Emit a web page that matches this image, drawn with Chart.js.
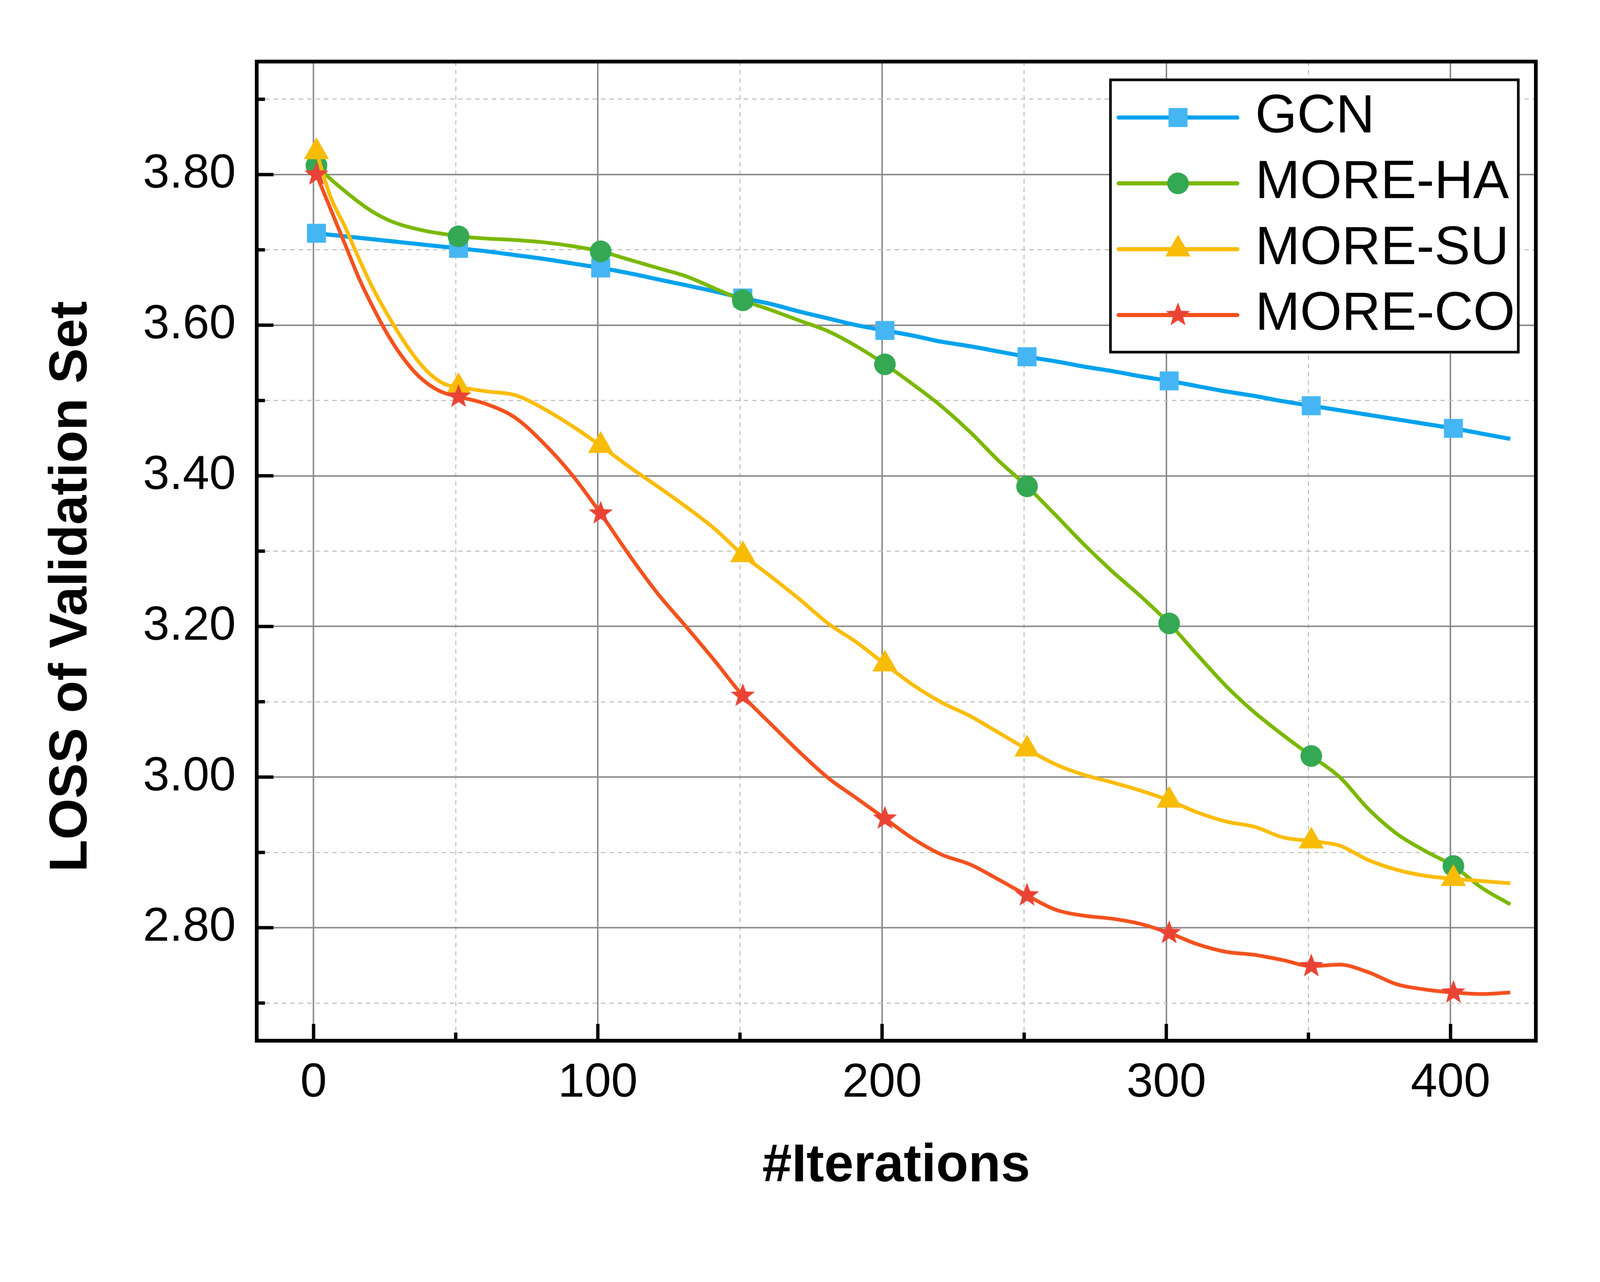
<!DOCTYPE html>
<html>
<head>
<meta charset="utf-8">
<title>LOSS of Validation Set</title>
<script src="https://cdn.jsdelivr.net/npm/chart.js@4.4.0/dist/chart.umd.min.js"></script>
<style>
  html, body { margin: 0; padding: 0; background: #fff; overflow: hidden; }
  #wrap { width: 4288px; height: 3283px; transform-origin: 0 0; }
</style>
</head>
<body>
<div id="wrap"><canvas id="lossChart" width="4288" height="3283"></canvas></div>
<script>
// values
const iterations = [1, 6, 11, 16, 21, 26, 31, 36, 41, 46, 51, 61, 71, 81, 91, 101, 111, 121, 131, 141,
  151, 161, 171, 181, 191, 201, 211, 221, 231, 241, 251, 261, 271, 281, 291, 301, 311, 321, 331, 341,
  351, 361, 371, 381, 391, 401, 411, 421];

const gcn = [3.722, 3.720, 3.718, 3.716, 3.714, 3.712, 3.710, 3.708, 3.706, 3.704, 3.702, 3.698, 3.693,
  3.688, 3.682, 3.676, 3.669, 3.661, 3.653, 3.645, 3.636, 3.628, 3.618, 3.609, 3.600, 3.593, 3.586,
  3.578, 3.572, 3.565, 3.558, 3.552, 3.545, 3.539, 3.532, 3.526, 3.519, 3.512, 3.506, 3.499, 3.493,
  3.487, 3.481, 3.475, 3.469, 3.463, 3.456, 3.449];

const moreHA = [3.812, 3.794, 3.778, 3.763, 3.750, 3.740, 3.733, 3.728, 3.724, 3.721, 3.718, 3.715,
  3.713, 3.710, 3.705, 3.698, 3.687, 3.676, 3.665, 3.649, 3.633, 3.620, 3.606, 3.592, 3.572, 3.548,
  3.521, 3.492, 3.458, 3.420, 3.386, 3.348, 3.309, 3.273, 3.240, 3.204, 3.162, 3.121, 3.086, 3.056,
  3.028, 3.000, 2.958, 2.925, 2.902, 2.882, 2.853, 2.831];

const moreSU = [3.830, 3.770, 3.731, 3.688, 3.648, 3.614, 3.583, 3.556, 3.535, 3.522, 3.518, 3.512,
  3.507, 3.489, 3.466, 3.440, 3.412, 3.386, 3.359, 3.330, 3.295, 3.266, 3.236, 3.204, 3.179, 3.150,
  3.122, 3.099, 3.081, 3.059, 3.037, 3.017, 3.003, 2.993, 2.982, 2.969, 2.953, 2.941, 2.934, 2.920,
  2.915, 2.909, 2.890, 2.877, 2.869, 2.865, 2.862, 2.859];

const moreCO = [3.800, 3.754, 3.708, 3.662, 3.623, 3.588, 3.559, 3.536, 3.520, 3.510, 3.505, 3.495,
  3.477, 3.443, 3.401, 3.350, 3.295, 3.244, 3.200, 3.155, 3.108, 3.070, 3.033, 2.999, 2.972, 2.945,
  2.918, 2.897, 2.884, 2.864, 2.843, 2.824, 2.816, 2.812, 2.805, 2.793, 2.778, 2.768, 2.764, 2.757,
  2.749, 2.751, 2.741, 2.725, 2.718, 2.714, 2.712, 2.714];

const seriesNames = ['GCN', 'MORE-HA', 'MORE-SU', 'MORE-CO'];

const xMajorTicks = [0, 100, 200, 300, 400];
const xMinorTicks = [50, 150, 250, 350];
const yMajorTicks = [2.8, 3.0, 3.2, 3.4, 3.6, 3.8];
const yMinorTicks = [2.7, 2.9, 3.1, 3.3, 3.5, 3.7, 3.9];

const FONT = '"Liberation Sans", Arial, Helvetica, sans-serif';
const MAJOR_GRID = '#8a8a8a';
const MINOR_GRID = '#c2c2c2';

// fit the 4288x3283 drawing into whatever the window really is
const wrap = document.getElementById('wrap');
const fit = Math.min(window.innerWidth / 4288, window.innerHeight / 3283) || 1;
wrap.style.transform = 'scale(' + fit + ')';

Chart.defaults.font.family = FONT;
Chart.defaults.color = '#000';

function starCanvas(r, color) {
  const size = Math.ceil(r * 2 + 4);
  const c = document.createElement('canvas');
  c.width = size;
  c.height = size;
  const g = c.getContext('2d');
  g.translate(size / 2, size / 2);
  g.beginPath();
  for (let i = 0; i < 10; i++) {
    const rad = i % 2 ? r * 0.42 : r;
    const a = -Math.PI / 2 + i * Math.PI / 5;
    g.lineTo(Math.cos(a) * rad, Math.sin(a) * rad);
  }
  g.closePath();
  g.fillStyle = color;
  g.fill();
  return c;
}

const star = starCanvas(34, '#ea4335');

const styles = [
  { line: '#00a2ed', marker: '#45b6f3', shape: 'rect', radius: 36, width: 11, order: 3 },
  { line: '#7ab800', marker: '#34a853', shape: 'circle', radius: 29, width: 10, order: 2 },
  { line: '#fbbc04', marker: '#f9bc05', shape: 'triangle', radius: 39, width: 10, order: 1 },
  { line: '#f4511e', marker: '#ea4335', shape: star, radius: 34, width: 10, order: 0 }
];

const isMarker = i => (iterations[i] - 1) % 50 === 0;

const datasets = [gcn, moreHA, moreSU, moreCO].map((values, k) => {
  const s = styles[k];
  return {
    label: seriesNames[k],
    data: iterations.map((x, i) => ({ x: x, y: values[i] })),
    borderColor: s.line,
    borderWidth: s.width,
    backgroundColor: s.marker,
    pointBackgroundColor: s.marker,
    pointBorderColor: s.marker,
    pointBorderWidth: 0,
    pointStyle: s.shape,
    pointRadius: ctx => isMarker(ctx.dataIndex) ? s.radius : 0,
    pointHoverRadius: 0,
    cubicInterpolationMode: 'monotone',
    fill: false,
    order: s.order
  };
});

function drawLegendMarker(ctx, s, cx, cy) {
  ctx.fillStyle = s.marker;
  if (s.shape === 'rect') {
    const h = s.radius * Math.SQRT1_2;
    ctx.fillRect(cx - h, cy - h, 2 * h, 2 * h);
  } else if (s.shape === 'circle') {
    ctx.beginPath();
    ctx.arc(cx, cy, s.radius, 0, Math.PI * 2);
    ctx.fill();
  } else if (s.shape === 'triangle') {
    const r = s.radius;
    ctx.beginPath();
    ctx.moveTo(cx, cy - r);
    ctx.lineTo(cx + r * Math.sin(Math.PI / 3), cy + r / 2);
    ctx.lineTo(cx - r * Math.sin(Math.PI / 3), cy + r / 2);
    ctx.closePath();
    ctx.fill();
  } else {
    ctx.drawImage(s.shape, cx - s.shape.width / 2, cy - s.shape.height / 2);
  }
}

const framePlugin = {
  id: 'frame',
  afterDatasetsDraw(chart) {
    const { ctx, chartArea: a, scales: { x, y } } = chart;
    ctx.save();

    // inward tick marks on left and bottom
    ctx.strokeStyle = '#000';
    ctx.lineWidth = 9;
    ctx.beginPath();
    yMajorTicks.forEach(v => { const p = y.getPixelForValue(v); ctx.moveTo(a.left, p); ctx.lineTo(a.left + 45, p); });
    yMinorTicks.forEach(v => { const p = y.getPixelForValue(v); ctx.moveTo(a.left, p); ctx.lineTo(a.left + 22, p); });
    xMajorTicks.forEach(v => { const p = x.getPixelForValue(v); ctx.moveTo(p, a.bottom); ctx.lineTo(p, a.bottom - 45); });
    xMinorTicks.forEach(v => { const p = x.getPixelForValue(v); ctx.moveTo(p, a.bottom); ctx.lineTo(p, a.bottom - 22); });
    ctx.stroke();

    // plot frame
    ctx.lineWidth = 10;
    ctx.strokeRect(a.left, a.top, a.right - a.left, a.bottom - a.top);

    // legend box, top right inside the plot
    const bw = 1093, bh = 730;
    const bx = a.right - 47 - bw, by = a.top + 49;
    ctx.fillStyle = '#fff';
    ctx.fillRect(bx, by, bw, bh);
    ctx.lineWidth = 7;
    ctx.strokeRect(bx, by, bw, bh);
    ctx.font = '144px ' + FONT;
    ctx.textBaseline = 'middle';
    ctx.textAlign = 'left';
    styles.forEach((s, k) => {
      const cy = by + 101 + k * 176.5;
      ctx.strokeStyle = s.line;
      ctx.lineWidth = 11;
      ctx.lineCap = 'round';
      ctx.beginPath();
      ctx.moveTo(bx + 22, cy);
      ctx.lineTo(bx + 340, cy);
      ctx.stroke();
      drawLegendMarker(ctx, s, bx + 181, cy);
      ctx.fillStyle = '#000';
      ctx.fillText(seriesNames[k], bx + 388, cy);
    });

    // y axis title
    ctx.translate(193, (a.top + a.bottom) / 2 + 95);
    ctx.rotate(-Math.PI / 2);
    ctx.textAlign = 'center';
    ctx.font = 'bold 142px ' + FONT;
    ctx.fillStyle = '#000';
    ctx.fillText('LOSS of Validation Set', 0, 0);

    ctx.restore();
  }
};

const gridDash = minor => c => (c.tick && minor.includes(c.tick.value)) ? [12, 10.5] : [];
const gridColor = minor => c => (c.tick && minor.includes(c.tick.value)) ? MINOR_GRID : MAJOR_GRID;
const gridWidth = minor => c => (c.tick && minor.includes(c.tick.value)) ? 3 : 4;

new Chart(document.getElementById('lossChart').getContext('2d'), {
  type: 'line',
  data: { datasets: datasets },
  options: {
    responsive: false,
    animation: false,
    devicePixelRatio: 1,
    events: [],
    layout: { padding: { top: 165, right: 172, left: 0, bottom: 0 } },
    plugins: {
      legend: { display: false },
      tooltip: { enabled: false }
    },
    scales: {
      x: {
        type: 'linear',
        min: -20,
        max: 430,
        afterBuildTicks: s => { s.ticks = xMajorTicks.concat(xMinorTicks).sort((p, q) => p - q).map(v => ({ value: v })); },
        afterFit: s => { s.height = 493; },
        grid: { color: gridColor(xMinorTicks), lineWidth: gridWidth(xMinorTicks), drawTicks: false },
        border: { display: false, dash: gridDash(xMinorTicks) },
        ticks: {
          autoSkip: false,
          maxRotation: 0,
          padding: 38,
          font: { size: 128 },
          color: '#000',
          callback: v => xMajorTicks.includes(v) ? String(v) : ''
        },
        title: {
          display: true,
          text: '#Iterations',
          font: { size: 142, weight: 'bold' },
          color: '#000',
          padding: { top: 0, bottom: 70 }
        }
      },
      y: {
        type: 'linear',
        min: 2.65,
        max: 3.95,
        afterBuildTicks: s => { s.ticks = yMajorTicks.concat(yMinorTicks).sort((p, q) => p - q).map(v => ({ value: v })); },
        afterFit: s => { s.width = 688; },
        grid: { color: gridColor(yMinorTicks), lineWidth: gridWidth(yMinorTicks), drawTicks: false },
        border: { display: false, dash: gridDash(yMinorTicks) },
        ticks: {
          autoSkip: false,
          padding: 56,
          font: { size: 128 },
          color: '#000',
          callback: v => yMajorTicks.includes(v) ? v.toFixed(2) : ''
        }
      }
    }
  },
  plugins: [framePlugin]
});
</script>
</body>
</html>
